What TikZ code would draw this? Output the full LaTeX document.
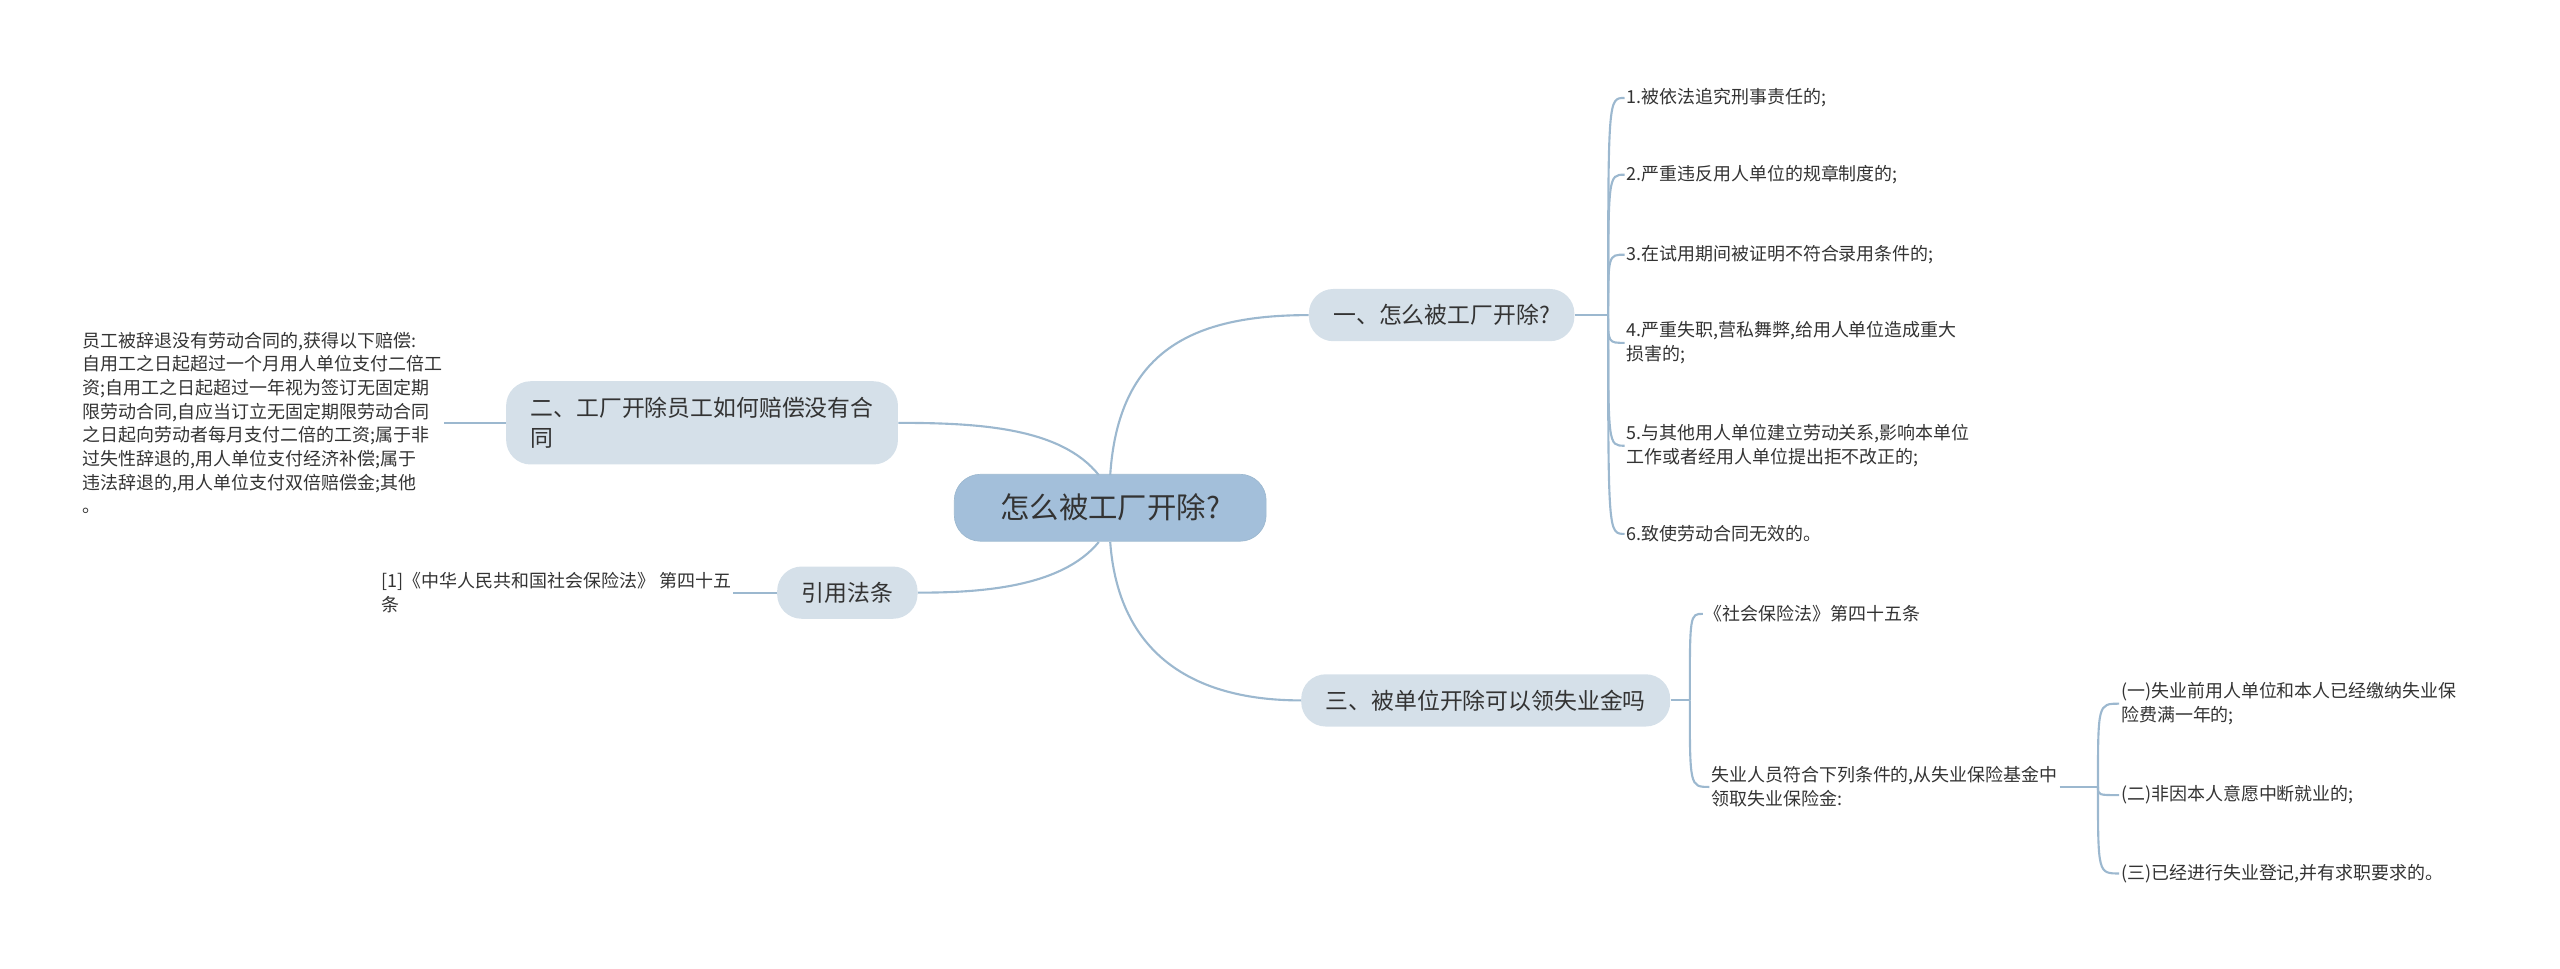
\documentclass[tikz,border=0pt]{standalone}
\usepackage{fontspec}
\setmainfont{Noto Sans CJK SC}
\usetikzlibrary{positioning}
\definecolor{linkc}{HTML}{9CB8CF}
\definecolor{rootc}{HTML}{A3BFDA}
\definecolor{topicc}{HTML}{D5E0E9}
\definecolor{txtc}{HTML}{333333}
\tikzset{
  rootbox/.style={rounded corners=16bp, fill=rootc, draw=linkc, minimum width=191bp, minimum height=41bp, font=\fontsize{18bp}{22bp}\selectfont, text=txtc},
  topicbox/.style={rounded corners=15bp, fill=topicc, minimum height=32bp, inner xsep=15bp, font=\fontsize{14bp}{18bp}\selectfont, text=txtc},
  leaf/.style={anchor=west, inner sep=1bp, align=left, font=\fontsize{11bp}{14.5bp}\selectfont, text=txtc},
  link/.style={draw=linkc, line width=1.3bp},
}
\begin{document}
\begin{tikzpicture}[x=1bp, y=-1bp]
      \useasboundingbox (0,0) rectangle (1568,593);
      \node[rootbox] (root) at (680,311) {怎么被工厂开除?};
      \node[topicbox] (t1) at (883,193) {一、怎么被工厂开除?};
      \node[topicbox, minimum height=51bp, align=left] (t2) at (430,259) {二、工厂开除员工如何赔偿没有合\\同};
      \node[topicbox] (t4) at (519,363) {引用法条};
      \node[topicbox] (t3) at (910,429) {三、被单位开除可以领失业金吗};

      % first branch
      \node[leaf] (a1) at (995,60) {1.被依法追究刑事责任的;};
      \node[leaf] (a2) at (995,107) {2.严重违反用人单位的规章制度的;};
      \node[leaf] (a3) at (995,156) {3.在试用期间被证明不符合录用条件的;};
      \node[leaf] (a4) at (995,210) {4.严重失职,营私舞弊,给用人单位造成重大\\损害的;};
      \node[leaf] (a5) at (995,273) {5.与其他用人单位建立劳动关系,影响本单位\\工作或者经用人单位提出拒不改正的;};
      \node[leaf] (a6) at (995,327) {6.致使劳动合同无效的。};

      % second branch
      \node[leaf, anchor=east] (b1) at (272,259) {员工被辞退没有劳动合同的,获得以下赔偿:\\自用工之日起超过一个月用人单位支付二倍工\\资;自用工之日起超过一年视为签订无固定期\\限劳动合同,自应当订立无固定期限劳动合同\\之日起向劳动者每月支付二倍的工资;属于非\\过失性辞退的,用人单位支付经济补偿;属于\\违法辞退的,用人单位支付双倍赔偿金;其他\\。};
      \node[leaf, anchor=east] (d1) at (449,363) {[1]《中华人民共和国社会保险法》 第四十五\\条};

      % third branch
      \node[leaf] (c1) at (1043,376) {《社会保险法》第四十五条};
      \node[leaf] (c2) at (1047,482) {失业人员符合下列条件的,从失业保险基金中\\领取失业保险金:};
      \node[leaf] (e1) at (1298,431) {(一)失业前用人单位和本人已经缴纳失业保\\险费满一年的;};
      \node[leaf] (e2) at (1298,487) {(二)非因本人意愿中断就业的;};
      \node[leaf] (e3) at (1298,535) {(三)已经进行失业登记,并有求职要求的。};

      % root links
      \draw[link] (680,291) .. controls (685,215) and (730,193) .. (t1.west);
      \draw[link] (680,332) .. controls (685,400) and (730,429) .. (t3.west);
      \draw[link] (673,291) .. controls (650,262) and (600,259) .. (t2.east);
      \draw[link] (673,332) .. controls (650,360) and (600,363) .. (t4.east);

      % brackets
      \coordinate (k1) at (985,193);
      \draw[link] (t1.east) -- (k1);
      \foreach \n in {a1,a2,a3,a4,a5,a6}
        \draw[link] (k1) .. controls (k1 |- \n.west) .. (\n.west);
      \coordinate (k3) at (1035,429);
      \draw[link] (t3.east) -- (k3);
      \foreach \n in {c1,c2}
        \draw[link] (k3) .. controls (k3 |- \n.west) .. (\n.west);
      \coordinate (k5) at (1285,482);
      \draw[link] (c2.east) -- (k5);
      \foreach \n in {e1,e2,e3}
        \draw[link] (k5) .. controls (k5 |- \n.west) .. (\n.west);
      \draw[link] (t2.west) -- (b1.east);
      \draw[link] (t4.west) -- (d1.east);
\end{tikzpicture}
\end{document}
